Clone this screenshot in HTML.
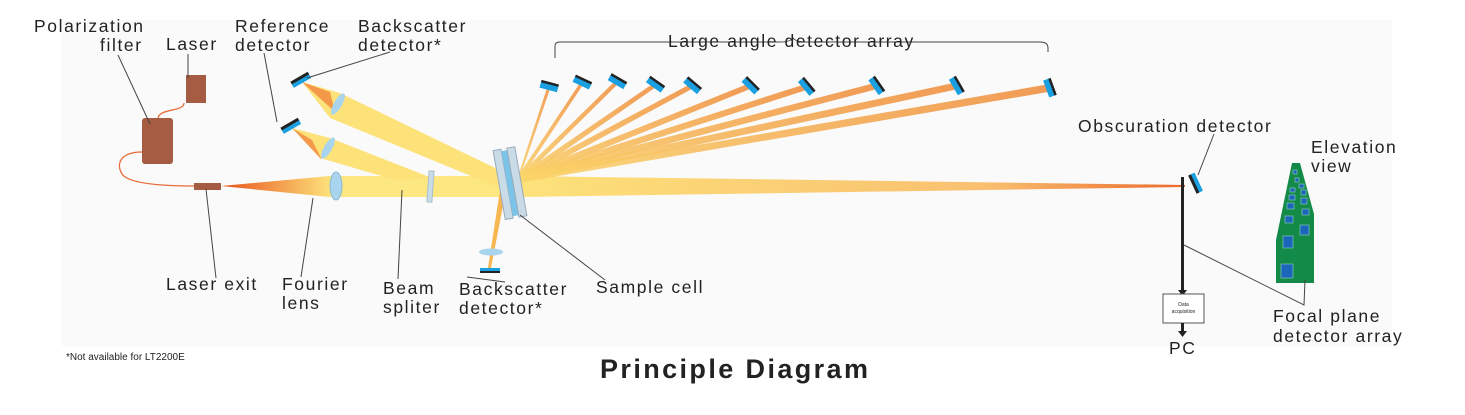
<!DOCTYPE html>
<html><head><meta charset="utf-8"><style>
html,body{margin:0;padding:0;background:#fff;}
svg{display:block;}
text{font-family:"Liberation Sans",sans-serif;fill:#222;}
.lbl{font-size:17.5px;letter-spacing:1.6px;}
.ld{stroke:#444;stroke-width:1;fill:none;}
</style></head><body>
<svg id="d" width="1465" height="415" viewBox="0 0 1465 415" xmlns="http://www.w3.org/2000/svg">
<defs>
<linearGradient id="cone" x1="0" x2="1" y1="0" y2="0"><stop offset="0" stop-color="#e8501c"/><stop offset="1" stop-color="#fde27a"/></linearGradient>
<linearGradient id="tail" x1="0" x2="1" y1="0" y2="0"><stop offset="0" stop-color="#fde27a"/><stop offset="0.7" stop-color="#f9c070"/><stop offset="1" stop-color="#ec6a2c"/></linearGradient>
<linearGradient id="fan" x1="0" x2="1"><stop offset="0" stop-color="#fbd56a"/><stop offset="1" stop-color="#ef8a38"/></linearGradient>
</defs>
<rect x="62" y="20" width="1330" height="326" fill="#fafafa"/>
<polygon points="221,186 330,176 330,197" fill="url(#cone)"/>
<rect x="330" y="176" width="190" height="21" fill="#fde780"/>
<polygon points="520,176 1185,185 1185,187 520,197" fill="url(#tail)"/>
<polygon points="292,128 330,138 432,178 395,180 320,158" fill="#fde27a"/>
<polygon points="292,128 312,140 322,160" fill="#ee7a34" opacity="0.7"/>
<polygon points="302,82 340,93 520,180 505,190 330,118" fill="#fde27a"/>
<polygon points="302,82 330,92 335,112" fill="#ee7a34" opacity="0.7"/>
<polygon points="500,190 506,190 491,268 488,268" fill="#f7b64e"/>
<g id="fans"></g>
<ellipse cx="336" cy="186" rx="6" ry="14" fill="#a9d4ee" stroke="#8fb8d0"/>
<ellipse cx="328" cy="148" rx="4" ry="12" transform="rotate(30 328 148)" fill="#a9d4ee"/>
<ellipse cx="338" cy="104" rx="4" ry="12" transform="rotate(30 338 104)" fill="#a9d4ee"/>
<ellipse cx="491" cy="252" rx="12" ry="3.5" fill="#a9d4ee"/>
<rect x="428" y="171" width="5" height="31" fill="#c9dbe6" stroke="#a9c0cc" transform="rotate(4 430 186)"/>
<g transform="rotate(-10 511 183)">
<rect x="499" y="148" width="8" height="70" fill="#c9dbe6" stroke="#9ab"/>
<rect x="507" y="150" width="6" height="66" fill="#7cc3e8"/>
<rect x="513" y="148" width="8" height="70" fill="#c9dbe6" stroke="#9ab"/>
</g>
<g transform="rotate(-30 292 128)"><rect x="282" y="124" width="20" height="5" fill="#1a9fe0"/><rect x="282" y="122" width="20" height="3" fill="#222"/></g>
<g transform="rotate(-30 302 82)"><rect x="292" y="78" width="20" height="5" fill="#1a9fe0"/><rect x="292" y="76" width="20" height="3" fill="#222"/></g>
<g><rect x="480" y="268" width="20" height="4" fill="#1a9fe0"/><rect x="480" y="271" width="20" height="2" fill="#222"/></g>
<g transform="rotate(65 1196 183)"><rect x="1186" y="180" width="20" height="5" fill="#1a9fe0"/><rect x="1186" y="184" width="20" height="3" fill="#222"/></g>
<rect x="186" y="75" width="20" height="28" fill="#a65c42"/>
<rect x="142" y="118" width="31" height="46" rx="3" fill="#a65c42"/>
<path d="M184,103 C184,112 160,108 158,118" stroke="#e86a3a" stroke-width="1.3" fill="none"/>
<path d="M142,152 C120,152 116,164 122,174 C130,186 180,186 195,186" stroke="#e86a3a" stroke-width="1.3" fill="none"/>
<rect x="194" y="183" width="27" height="7" fill="#a65c42"/>
<rect x="1181" y="177" width="3" height="135" fill="#222"/>
<polygon points="1178,290 1187,290 1182.5,296" fill="#222"/>
<rect x="1163" y="294" width="41" height="29" fill="#fff" stroke="#555"/>
<text x="1183.5" y="306" font-size="5" text-anchor="middle">Data</text>
<text x="1183.5" y="313" font-size="5" text-anchor="middle">acquisition</text>
<rect x="1181" y="323" width="3" height="9" fill="#222"/>
<polygon points="1178,331 1187,331 1182.5,337" fill="#222"/>
<polygon points="1292,163 1300,163 1314,214 1314,283 1276,283 1276,240" fill="#138a48"/>
<g fill="#1a66b8" stroke="#9cc" stroke-width="0.6">
<rect x="1293" y="170" width="4" height="4"/><rect x="1295" y="178" width="4" height="4"/><rect x="1299" y="184" width="5" height="4"/>
<rect x="1290" y="188" width="5" height="4"/><rect x="1301" y="190" width="5" height="5"/><rect x="1289" y="195" width="6" height="5"/>
<rect x="1301" y="198" width="6" height="6"/><rect x="1287" y="203" width="7" height="6"/><rect x="1302" y="209" width="7" height="6"/>
<rect x="1285" y="216" width="8" height="7"/><rect x="1300" y="225" width="9" height="10"/><rect x="1283" y="236" width="10" height="12"/>
<rect x="1281" y="264" width="12" height="14"/>
</g>
<path class="ld" d="M118,55 L150,124"/><path class="ld" d="M188,54 L188,78"/>
<path class="ld" d="M264,53 L277,122"/><path class="ld" d="M390,52 L307,78"/>
<path class="ld" d="M206,189 L216,278"/><path class="ld" d="M313,198 L301,277"/>
<path class="ld" d="M402,190 L398,279"/><path class="ld" d="M467,277 L505,282"/>
<path class="ld" d="M520,215 L605,280"/><path class="ld" d="M1214,134 L1198,175"/>
<path class="ld" d="M1184,245 L1304,305 L1305,280"/>
<path class="ld" d="M555,58 L555,46 Q555,42 560,42 L780,42 Q790,42 793,38 Q796,42 806,42 L1040,42 Q1048,42 1048,48 L1048,52" stroke="#555"/>
<g>
<text class="lbl" x="34" y="32">Polarization</text><text class="lbl" x="100" y="51">filter</text>
<text class="lbl" x="166" y="50">Laser</text>
<text class="lbl" x="235" y="32">Reference</text><text class="lbl" x="235" y="51">detector</text>
<text class="lbl" x="358" y="32">Backscatter</text><text class="lbl" x="358" y="51">detector*</text>
<text class="lbl" x="668" y="47">Large angle detector array</text>
<text class="lbl" x="1078" y="132">Obscuration detector</text>
<text class="lbl" x="1311" y="153">Elevation</text><text class="lbl" x="1311" y="172">view</text>
<text class="lbl" x="166" y="290">Laser exit</text>
<text class="lbl" x="282" y="290">Fourier</text><text class="lbl" x="282" y="309">lens</text>
<text class="lbl" x="383" y="294">Beam</text><text class="lbl" x="383" y="313">spliter</text>
<text class="lbl" x="459" y="295">Backscatter</text><text class="lbl" x="459" y="314">detector*</text>
<text class="lbl" x="596" y="293">Sample cell</text>
<text class="lbl" x="1273" y="322">Focal plane</text><text class="lbl" x="1273" y="342">detector  array</text>
<text class="lbl" x="1169" y="354" font-size="18">PC</text>
<text x="66" y="360" font-size="10">*Not available for LT2200E</text>
<text x="600" y="378" font-size="27" font-weight="bold" fill="#333" letter-spacing="2.4">Principle Diagram</text>
</g>
</svg>
<script>
const detX=[549,582,617,655,692,750,806,876,956,1049];
const detY=[87,83,82,85,86,86,87,86,86,88];
const detA=[15,25,30,35,40,45,50,55,60,70];
const ns='http://www.w3.org/2000/svg';
const fans=document.getElementById('fans');
const ox=518,oy=176;
for(let i=0;i<detX.length;i++){
  const x=detX[i],y=detY[i];
  const dx=x-ox,dy=y-oy,len=Math.hypot(dx,dy);
  const nx=-dy/len,ny=dx/len,w=1.5+i*0.25;
  const p=document.createElementNS(ns,'polygon');
  p.setAttribute('points',`${ox},${oy} ${ox},${oy+7} ${x+nx*w},${y+ny*w} ${x-nx*w},${y-ny*w}`);
  p.setAttribute('fill','url(#fan)');
  p.setAttribute('opacity','0.85');
  
  
  fans.appendChild(p);
  const g=document.createElementNS(ns,'g');
  g.setAttribute('transform',`rotate(${detA[i]} ${x} ${y})`);
  
  
  g.innerHTML=`<rect x="${x-9}" y="${y-3}" width="18" height="6" fill="#1a9fe0"/><rect x="${x-9}" y="${y-5}" width="18" height="2.5" fill="#222"/>`;
  document.getElementById('d').appendChild(g);
}
</script>
</body></html>
